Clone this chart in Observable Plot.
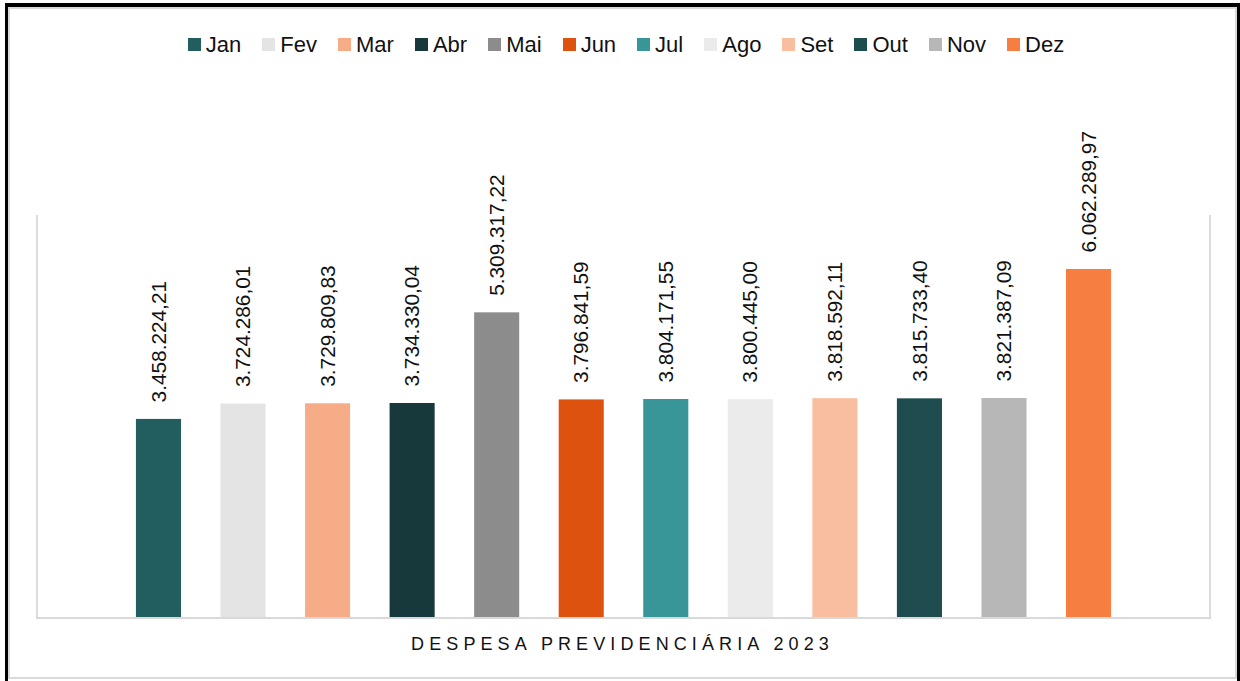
<!DOCTYPE html>
<html>
<head>
<meta charset="utf-8">
<script src="https://cdn.jsdelivr.net/npm/d3@7"></script>
<script src="https://cdn.jsdelivr.net/npm/@observablehq/plot@0.6"></script>
<style>
  html, body { margin: 0; padding: 0; background: #fff; }
  #wrap { position: relative; width: 1240px; height: 681px; overflow: hidden; background: #fff;
          font-family: "Liberation Sans", Arial, sans-serif; }
  #outer { position: absolute; left: 5px; top: 3px; width: 1235px; height: 720px; box-sizing: border-box;
           border-left: 3px solid #000; border-top: 4px solid #000; border-right: 3px solid #000; }
  #inner { position: absolute; left: 0; top: 0; right: 0; height: 672px; box-sizing: border-box;
           border: 2px solid #d9d9d9; }
  #legend { position: absolute; top: 31px; left: 6px; width: 1240px; display: flex; justify-content: center;
            align-items: center; font-size: 22px; color: #111; height: 27px; }
  .item { display: flex; align-items: center; margin: 0 10.5px; }
  .sw { width: 13px; height: 13px; margin-right: 5px; }
  #chart { position: absolute; top: 80px; left: 0; }
  #xlabel { position: absolute; top: 634px; left: 0; width: 1240px; text-align: center; font-size: 18px;
            letter-spacing: 5.1px; color: #111; padding-left: 5px; box-sizing: border-box; }
</style>
</head>
<body>
<div id="wrap">
  <div id="outer"><div id="inner"></div></div>
  <div id="legend"></div>
  <div id="chart"></div>
  <div id="xlabel"></div>
</div>
<script>
const months = ["Jan","Fev","Mar","Abr","Mai","Jun","Jul","Ago","Set","Out","Nov","Dez"];
const values = [3458224.21, 3724286.01, 3729809.83, 3734330.04, 5309317.22, 3796841.59,
                3804171.55, 3800445.00, 3818592.11, 3815733.40, 3821387.09, 6062289.97];
const colors = ["#225e5f","#e4e4e4","#f6ad87","#17393b","#8c8c8c","#dd520f",
                "#389598","#ebebeb","#f8be9f","#1f4d4f","#b7b7b7","#f57e40"];
const categoryLabel = "DESPESA PREVIDENCIÁRIA 2023";

const data = months.map((m, i) => ({month: m, value: values[i]}));
const fmt = d3.formatLocale({decimal: ",", thousands: ".", grouping: [3], currency: ["R$", ""]}).format(",.2f");

// legend
const legend = document.getElementById("legend");
months.forEach((m, i) => {
  const it = document.createElement("div");
  it.className = "item";
  it.innerHTML = `<span class="sw" style="background:${colors[i]}"></span><span>${m}</span>`;
  legend.appendChild(it);
});
document.getElementById("xlabel").textContent = categoryLabel;

const areaLines = (index, scales, vals, dims) => {
  const g = d3.create("svg:g");
  const x0 = dims.marginLeft, x1 = dims.width - dims.marginRight;
  const y0 = dims.marginTop, y1 = dims.height - dims.marginBottom;
  g.append("line").attr("x1", x0).attr("x2", x0).attr("y1", y0).attr("y2", y1)
    .attr("stroke", "#d9d9d9").attr("stroke-width", 1.75);
  g.append("line").attr("x1", x1).attr("x2", x1).attr("y1", y0).attr("y2", y1)
    .attr("stroke", "#d9d9d9").attr("stroke-width", 1.75);
  g.append("line").attr("x1", x0 - 1).attr("x2", x1 + 1).attr("y1", y1).attr("y2", y1)
    .attr("stroke", "#d9d9d9").attr("stroke-width", 2);
  return g.node();
};

const chart = Plot.plot({
  width: 1240,
  height: 601,
  marginLeft: 37,
  marginRight: 30,
  marginTop: 135,
  marginBottom: 63,
  style: {fontFamily: "'Liberation Sans', Arial, sans-serif", background: "transparent", overflow: "visible"},
  x: {type: "band", domain: months, paddingInner: 0.467, paddingOuter: 1.17, align: 0.5, round: false, axis: null},
  y: {domain: [0, 7000000], axis: null},
  color: {type: "ordinal", domain: months, range: colors},
  marks: [
    Plot.barY(data, {x: "month", y: "value", fill: "month"}),
    areaLines,
    Plot.text(data, {x: "month", y: "value", text: d => fmt(d.value), rotate: -90,
                     textAnchor: "start", dy: -17, fontSize: 20.8, fill: "#111"})
  ]
});
document.getElementById("chart").appendChild(chart);
</script>
</body>
</html>
